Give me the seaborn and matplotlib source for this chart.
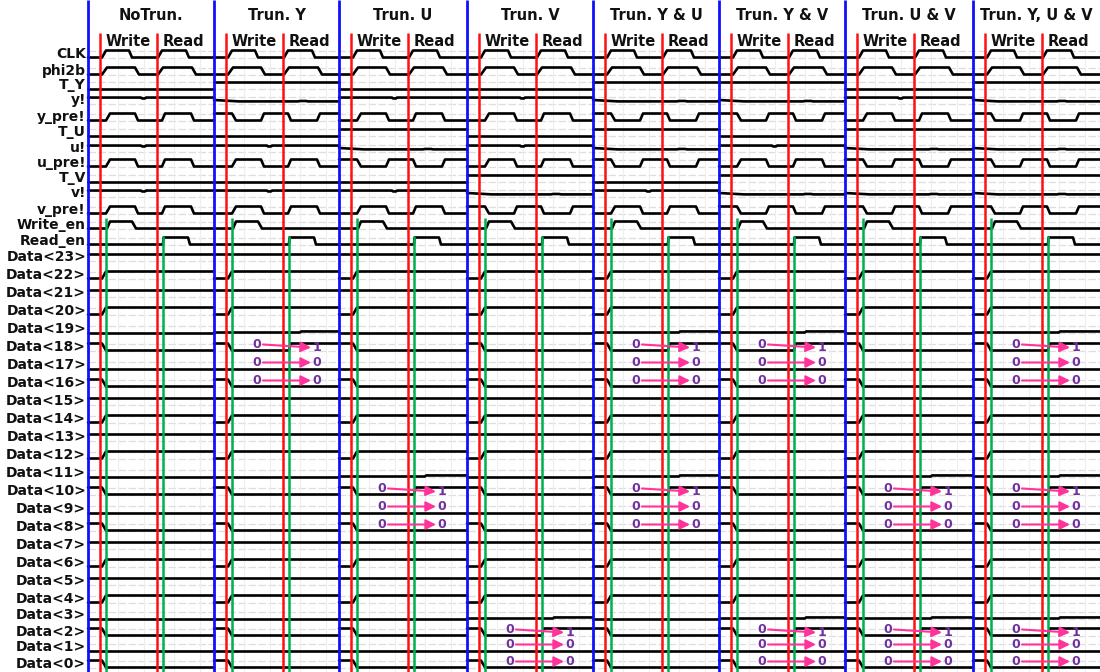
import numpy as np
import pandas as pd
import matplotlib
matplotlib.use("Agg")
import matplotlib.pyplot as plt
import seaborn as sns

# ---------------- data ----------------
panels = ["NoTrun.", "Trun. Y", "Trun. U", "Trun. V",
          "Trun. Y & U", "Trun. Y & V", "Trun. U & V", "Trun. Y, U & V"]
truncated = [[], ["Y"], ["U"], ["V"], ["Y", "U"], ["Y", "V"], ["U", "V"], ["Y", "U", "V"]]
channels = ["Y", "U", "V"]
control_signals = ["CLK", "phi2b", "T_Y", "y!", "y_pre!", "T_U", "u!", "u_pre!",
                   "T_V", "v!", "v_pre!", "Write_en", "Read_en"]
data_signals = [f"Data<{i}>" for i in range(23, -1, -1)]
phase_labels = ["Write", "Read"]

# data levels inside each byte (bit7 .. bit0): before and after the write
bit_before = [1, 0, 1, 0, 0, 1, 0, 1]
bit_after = [1, 1, 1, 1, 0, 0, 0, 0]
# truncated bits (bit2, bit1, bit0): written value -> read value
trunc_written = ["0", "0", "0"]
trunc_read = ["1", "0", "0"]

# waveform templates: local time (px from panel start) and logic level
clk_t = [0, 14, 18, 41, 44, 70, 74, 98, 101, 127]
clk_v = [0, 0, 1, 1, 0, 0, 1, 1, 0, 0]
phi_t = [0, 14, 19, 47, 51, 70, 75, 104, 108, 127]
phi_v = [0, 0, 1, 1, 0, 0, 1, 1, 0, 0]
pre_t = [0, 18, 22, 47, 50, 74, 77, 103, 106, 127]
pre_v = [0, 0, 1, 1, 0, 0, 1, 1, 0, 0]
pre_inv_v = [1, 1, 0, 0, 1, 1, 0, 0, 1, 1]
bang_t = [0, 53, 54, 57, 58, 127]
bang_v = [0.85, 0.85, 0.72, 0.72, 0.85, 0.85]
bang_tr_t = [0, 25, 84, 86, 92, 94, 127]
bang_tr_v = [0.5, 0.3, 0.3, 0.36, 0.36, 0.3, 0.3]
we_t = [0, 19, 22, 44, 48, 127]
we_v = [0, 0, 1, 1, 0, 0]
re_t = [0, 75, 75.5, 100, 102, 127]
re_v = [0, 0, 1, 1, 0, 0]
wr_t = [0, 14, 18, 127]
tb2_t = [0, 14, 18, 75, 76.5, 127]
tb2_v = [1, 1, 0, 0, 1, 1]
tb3_t = [0, 86, 87, 127]
tb3_v = [0, 0, 0.15, 0.15]

# ---------------- layout ----------------
W, H = 1100, 672
panel_x = [88, 214, 339, 467, 593, 719, 845, 973]
ctrl_y = [54, 71, 85, 100, 117, 132, 148, 163, 178, 193, 210, 225, 241]
data_y = [257 + 18 * i for i in range(20)] + [615, 632, 647, 664]
red_off = [12, 69]
green_off = [18, 75]
AMP = 7.0


def lvl(c, v):
    return c + AMP / 2 - AMP * v


rows = []
for p, px in enumerate(panel_x):
    width = (panel_x[p + 1] if p + 1 < len(panel_x) else W) - px
    tr = truncated[p]

    def add(name, c, ts, vs):
        ts = list(ts)
        ts[-1] = width
        for t, v in zip(ts, vs):
            rows.append({"x": px + t, "y": lvl(c, v), "trace": f"{p}:{name}"})

    for name, c in zip(control_signals, ctrl_y):
        if name == "CLK":
            add(name, c, clk_t, clk_v)
        elif name == "phi2b":
            add(name, c, phi_t, phi_v)
        elif name == "Write_en":
            add(name, c, we_t, we_v)
        elif name == "Read_en":
            add(name, c, re_t, re_v)
        else:
            ch = name[-1] if name.startswith("T_") else name[0].upper()
            is_tr = ch in tr
            if name.startswith("T_"):
                add(name, c, [0, 127], [1, 1] if is_tr else [0, 0])
            elif name.endswith("_pre!"):
                add(name, c, pre_t, pre_inv_v if is_tr else pre_v)
            else:
                if is_tr:
                    add(name, c, bang_tr_t, bang_tr_v)
                else:
                    add(name, c, bang_t, bang_v)

    for i, (name, c) in enumerate(zip(data_signals, data_y)):
        byte, bit = i // 8, 7 - (i % 8)
        is_tr = channels[byte] in tr
        if is_tr and bit == 2:
            add(name, c, tb2_t, tb2_v)
        elif is_tr and bit == 3:
            add(name, c, tb3_t, tb3_v)
        else:
            k = i % 8
            add(name, c, wr_t, [bit_before[k], bit_before[k], bit_after[k], bit_after[k]])

df = pd.DataFrame(rows)

# ---------------- drawing ----------------
sns.set_theme(style="white")
plt.rcParams["font.family"] = ["DejaVu Sans"]

fig = plt.figure(figsize=(W / 100, H / 100), dpi=100)
ax = fig.add_axes([0, 0, 1, 1])

# faint background grid of the waveform viewer
for c in ctrl_y + data_y:
    for v in (0, 1):
        ax.hlines(lvl(c, v) + 0.5, panel_x[0], W, color="#dedede", lw=0.9,
                  linestyles=(0, (6, 2)), zorder=1)
for px in panel_x:
    for t in (30, 56, 86, 112):
        ax.vlines(px + t, 48, H, color="#eeeeee", lw=0.8, zorder=1)

sns.lineplot(data=df, x="x", y="y", units="trace", estimator=None, sort=False,
             color="black", linewidth=1.9, legend=False, ax=ax, zorder=2)
ax.set_xlim(0, W)
ax.set_ylim(H, 0)
ax.axis("off")

# panel separators and phase markers
for p, px in enumerate(panel_x):
    ax.vlines(px, 0, H, color="#1010ff", lw=2.0, zorder=4)
    for ro in red_off:
        ax.vlines(px + ro, 33, H, color="#ff1010", lw=1.8, zorder=4)
    ax.vlines(px + green_off[0], 218, H, color="#00b050", lw=1.8, zorder=3)
    ax.vlines(px + green_off[1], 236, H, color="#00b050", lw=1.8, zorder=3)
    width = (panel_x[p + 1] if p + 1 < len(panel_x) else W) - px
    ax.text(px + width / 2, 16, panels[p], ha="center", va="center",
            fontsize=10.5, fontweight="bold", color="#111111")
    ax.text(px + red_off[0] + 28, 42, phase_labels[0], ha="center", va="center",
            fontsize=10.5, fontweight="bold", color="#111111", zorder=5)
    ax.text(px + red_off[1] + 26, 42, phase_labels[1], ha="center", va="center",
            fontsize=10.5, fontweight="bold", color="#111111", zorder=5)

    # annotations for truncated bits
    for ch in truncated[p]:
        b = channels.index(ch)
        for k in range(3):
            c = data_y[8 * b + 5 + k] - 2.5
            dy = 3 if trunc_read[k] == "1" else 0
            ax.annotate("", xy=(px + 97, c + dy), xytext=(px + 49, c),
                        arrowprops=dict(arrowstyle="-|>", color="#ff3399", lw=1.5,
                                        mutation_scale=15, shrinkA=0, shrinkB=0),
                        zorder=6)
            ax.text(px + 43, c, trunc_written[k], ha="center", va="center",
                    fontsize=9, fontweight="bold", color="#7030a0", zorder=7)
            ax.text(px + 103, c + dy, trunc_read[k], ha="center", va="center",
                    fontsize=9, fontweight="bold", color="#7030a0", zorder=7)

# signal names
for name, c in zip(control_signals + data_signals, ctrl_y + data_y):
    ax.text(86, c, name, ha="right", va="center", fontsize=10,
            fontweight="bold", color="#111111")

fig.savefig("out.png", dpi=100)
